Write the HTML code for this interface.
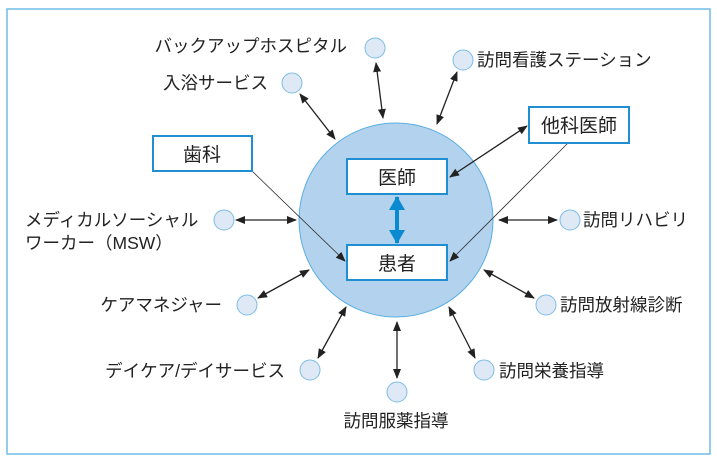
<!DOCTYPE html>
<html><head><meta charset="utf-8"><style>
html,body{margin:0;padding:0;background:#fff;width:717px;height:461px;overflow:hidden}
text{font-family:"Liberation Sans","Noto Sans CJK JP",sans-serif;font-size:17.5px;fill:#222}
</style></head><body>
<svg width="717" height="461" xmlns="http://www.w3.org/2000/svg">
<defs>
<marker id="a" markerWidth="10" markerHeight="8" refX="9" refY="4" orient="auto-start-reverse" markerUnits="userSpaceOnUse"><path d="M0,0 L10,4 L0,8 z" fill="#222"/></marker>
<marker id="b" markerWidth="14" markerHeight="16" refX="13" refY="8" orient="auto-start-reverse" markerUnits="userSpaceOnUse"><path d="M0,0 L14,8 L0,16 z" fill="#0a8ad0"/></marker>
</defs>
<rect x="7" y="9" width="703" height="445" fill="#fff" stroke="#6fbde6" stroke-width="1.5"/>
<circle cx="396" cy="220" r="97" fill="#b3d2ee" stroke="#5aaee0" stroke-width="1"/>
<g stroke="#222" stroke-width="1.3" fill="none">
<line x1="376" y1="63" x2="383" y2="118" marker-start="url(#a)" marker-end="url(#a)"/>
<line x1="457" y1="72" x2="437" y2="124" marker-start="url(#a)" marker-end="url(#a)"/>
<line x1="300" y1="94" x2="335" y2="139" marker-start="url(#a)" marker-end="url(#a)"/>
<line x1="236" y1="220" x2="296" y2="220" marker-start="url(#a)" marker-end="url(#a)"/>
<line x1="499" y1="220" x2="557" y2="220" marker-start="url(#a)" marker-end="url(#a)"/>
<line x1="258" y1="298" x2="309" y2="270" marker-start="url(#a)" marker-end="url(#a)"/>
<line x1="484" y1="270" x2="534" y2="298" marker-start="url(#a)" marker-end="url(#a)"/>
<line x1="318" y1="358" x2="346" y2="307" marker-start="url(#a)" marker-end="url(#a)"/>
<line x1="475" y1="358" x2="449" y2="307" marker-start="url(#a)" marker-end="url(#a)"/>
<line x1="397" y1="322" x2="397" y2="378" marker-start="url(#a)" marker-end="url(#a)"/>
<line x1="527" y1="126" x2="450" y2="177" marker-start="url(#a)" marker-end="url(#a)"/>
</g>
<g stroke="#333" stroke-width="0.8" fill="none">
<line x1="252" y1="171" x2="345" y2="261" marker-end="url(#a)"/>
<line x1="568" y1="143" x2="450" y2="261" marker-end="url(#a)"/>
</g>
<line x1="397" y1="197" x2="397" y2="243" stroke="#0a8ad0" stroke-width="4" marker-start="url(#b)" marker-end="url(#b)"/>
<g fill="#fff" stroke="#1f8fd2" stroke-width="2">
<rect x="347" y="159" width="100" height="35"/>
<rect x="347" y="245" width="100" height="35"/>
<rect x="153" y="136" width="99" height="35"/>
<rect x="529" y="107" width="100" height="36"/>
</g>
<text x="397" y="184" text-anchor="middle" style="font-size:19px">医師</text>
<text x="397" y="270" text-anchor="middle" style="font-size:19px">患者</text>
<text x="202" y="161" text-anchor="middle" style="font-size:19px">歯科</text>
<text x="579" y="132" text-anchor="middle" style="font-size:19px">他科医師</text>
<g fill="#dfe8f5" stroke="#7cbde6" stroke-width="1">
<circle cx="375" cy="48" r="10"/>
<circle cx="463" cy="60" r="10"/>
<circle cx="292" cy="83" r="10"/>
<circle cx="224" cy="220" r="10"/>
<circle cx="570" cy="220" r="10"/>
<circle cx="247" cy="305" r="10"/>
<circle cx="546" cy="305" r="10"/>
<circle cx="310" cy="370" r="10"/>
<circle cx="484" cy="370" r="10"/>
<circle cx="397" cy="392" r="10"/>
</g>
<text x="347" y="52" text-anchor="end">バックアップホスピタル</text>
<text x="477" y="66">訪問看護ステーション</text>
<text x="268" y="89" text-anchor="end">入浴サービス</text>
<text x="25" y="226">メディカルソーシャル</text>
<text x="25" y="249">ワーカー（MSW）</text>
<text x="583" y="226">訪問リハビリ</text>
<text x="222" y="311" text-anchor="end">ケアマネジャー</text>
<text x="560" y="311">訪問放射線診断</text>
<text x="285" y="377" text-anchor="end">デイケア/デイサービス</text>
<text x="499" y="377">訪問栄養指導</text>
<text x="396" y="427" text-anchor="middle">訪問服薬指導</text>
</svg>
</body></html>
